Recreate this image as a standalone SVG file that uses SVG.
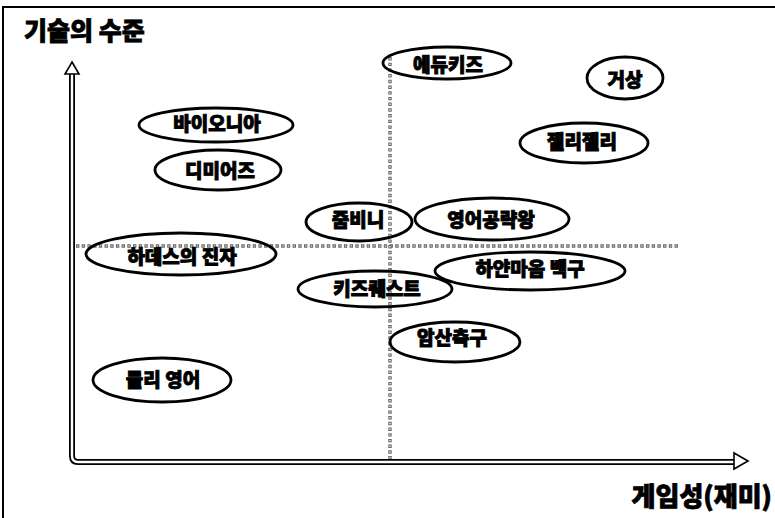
<svg xmlns="http://www.w3.org/2000/svg" width="775" height="518" viewBox="0 0 775 518">
<style>
  .frame { fill: none; stroke: #000; stroke-width: 2; }
  .shaft-o { fill: none; stroke: #000; stroke-width: 6; stroke-linejoin: round; }
  .shaft-i { fill: none; stroke: #fff; stroke-width: 2.4; stroke-linejoin: round; }
  .head { fill: #fff; stroke: #000; stroke-width: 1.6; stroke-linejoin: miter; }
  .dot-o { fill: none; stroke: #666; stroke-width: 3.4; stroke-dasharray: 3.4 2.3; }
  .dot-i { fill: none; stroke: #fff; stroke-width: 1.2; stroke-dasharray: 1.4 4.3; stroke-dashoffset: -1; }
  .node ellipse { fill: none; stroke: #000; stroke-width: 2.8; }
  .node text { font-family: "Noto Sans CJK KR", "Noto Sans", sans-serif; font-weight: 900; font-size: 19px; text-anchor: middle; fill: #000; stroke: #000; stroke-width: 0.9; }
  .title { font-family: "Noto Sans CJK KR", "Noto Sans", sans-serif; font-weight: 900; fill: #000; stroke: #000; stroke-width: 0.8; }
</style>
<rect width="775" height="518" fill="#fff"/>
<path class="frame" d="M3,518 V7 H775"/>
<text class="title" x="24" y="40" font-size="25">기술의 수준</text>
<text class="title" x="772" y="506" font-size="26" text-anchor="end">게임성(재미)</text>
<g id="connectors">
  <line class="dot-o" x1="76" y1="246" x2="680" y2="246"/>
  <line class="dot-i" x1="76" y1="246" x2="680" y2="246"/>
  <line class="dot-o" x1="390" y1="57" x2="390" y2="459"/>
  <line class="dot-i" x1="390" y1="57" x2="390" y2="459"/>
  <path class="shaft-o" d="M72,72 V456 Q72,462 78,462 H736"/>
  <path class="shaft-i" d="M72,72 V456 Q72,462 78,462 H736"/>
  <polygon class="head" points="72,62 79,74 65,74"/>
  <polygon class="head" points="748,461 734,453 734,469"/>
</g>
<g id="node-edukids" class="node"><ellipse cx="447" cy="63" rx="64" ry="16"/><text x="448" y="72">에듀키즈</text></g>
<g id="node-geosang" class="node"><ellipse cx="625" cy="78" rx="38" ry="21"/><text x="625" y="87">거상</text></g>
<g id="node-jellyjelly" class="node"><ellipse cx="584" cy="143" rx="64" ry="20"/><text x="582" y="149">젤리젤리</text></g>
<g id="node-bionia" class="node"><ellipse cx="216" cy="125" rx="77" ry="17"/><text x="217" y="131">바이오니아</text></g>
<g id="node-dimiers" class="node"><ellipse cx="218" cy="170" rx="63" ry="20"/><text x="220" y="178">디미어즈</text></g>
<g id="node-zoombini" class="node"><ellipse cx="359" cy="222" rx="53" ry="19"/><text x="358" y="227">줌비니</text></g>
<g id="node-english-king" class="node"><ellipse cx="492" cy="219" rx="77" ry="21"/><text x="491" y="227">영어공략왕</text></g>
<g id="node-hades" class="node"><ellipse cx="181" cy="254" rx="95" ry="21"/><text x="182" y="264">하데스의 진자</text></g>
<g id="node-baekgu" class="node"><ellipse cx="530" cy="271" rx="95" ry="19"/><text x="530" y="276">하얀마음 백구</text></g>
<g id="node-kidsquest" class="node"><ellipse cx="375" cy="289" rx="77" ry="18"/><text x="377" y="296">키즈퀘스트</text></g>
<g id="node-amsan" class="node"><ellipse cx="455" cy="342" rx="65" ry="20"/><text x="452" y="345">암산축구</text></g>
<g id="node-dooly" class="node"><ellipse cx="162" cy="380" rx="69" ry="22"/><text x="163" y="387">둘리 영어</text></g>
</svg>
